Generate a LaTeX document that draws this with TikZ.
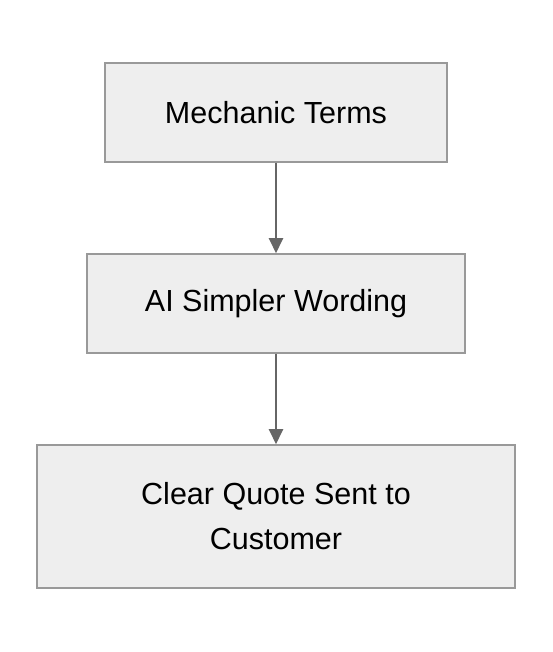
\documentclass[tikz,border=0pt]{standalone}
\usepackage{fontspec}
\setmainfont{Liberation Sans}
\usetikzlibrary{arrows.meta}
\definecolor{boxfill}{HTML}{EEEEEE}
\definecolor{boxline}{HTML}{999999}
\definecolor{arrowc}{HTML}{666666}
\begin{document}
\begin{tikzpicture}[x=1pt,y=1pt,
  procbox/.style={draw=boxline, fill=boxfill, line width=1.5pt, inner sep=0pt,
    font=\fontsize{30.5}{45}\selectfont, align=center, text=black},
  flow/.style={draw=arrowc, line width=2pt, -{Triangle[width=14pt,length=15pt]}}]
\useasboundingbox (0,0) rectangle (552,652);
\node[procbox, minimum width=342pt, minimum height=99pt] (a) at (276,539.5) {Mechanic Terms};
\node[procbox, minimum width=378pt, minimum height=99pt] (b) at (276,348.5) {AI Simpler Wording};
\node[procbox, minimum width=478pt, minimum height=143pt] (c) at (276,135.5) {Clear Quote Sent to\\Customer};
\draw[flow] (a.south) -- (b.north);
\draw[flow] (b.south) -- (c.north);
\end{tikzpicture}
\end{document}
